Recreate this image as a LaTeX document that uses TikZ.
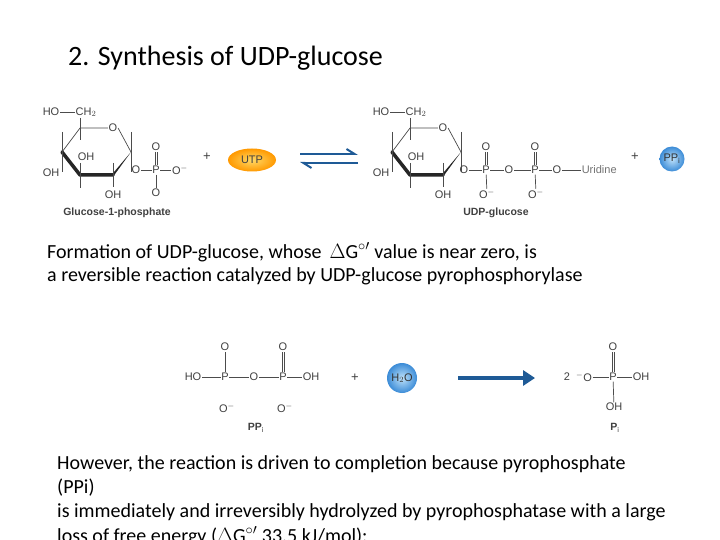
\documentclass[tikz,border=0pt]{standalone}
\usepackage{fontspec}
\setmainfont{Carlito}
\newfontfamily\chem{Liberation Sans}
\usetikzlibrary{arrows.meta,shapes.geometric}
\definecolor{arr}{RGB}{30,90,150}
\definecolor{ballc}{RGB}{60,140,215}
\definecolor{ballin}{RGB}{190,225,250}
\tikzset{
 ch/.style={font=\chem\fontsize{11}{12}\selectfont,text=black!75,inner sep=0.6pt},
 cl/.style={font=\chem\bfseries\fontsize{10.5}{12}\selectfont,text=black!75},
 bd/.style={black!70,line width=0.7pt},
 thick bond/.style={black!85,line width=3.5pt,line cap=round,line join=round},
 body/.style={font=\fontsize{20}{23}\selectfont,anchor=west,inner sep=0pt},
 ball/.style={circle,inner sep=0,ch,inner color=ballin,outer color=ballc,text=black!80},
}
\newcommand{\ring}[1]{%
 \begin{scope}[xshift=#1]
 \coordinate (c5) at (80,128); \node[ch] (ro) at (113,128) {O};
 \coordinate (c1) at (131,152); \coordinate (c2) at (113,175);
 \coordinate (c3) at (80,175); \coordinate (c4) at (62,152);
 \draw[bd] (c4)--(c5)--(ro.west); \draw[bd] (ro.east)--(c1);
 \draw[thick bond] (c4)--(c3)--(c2);
 \fill[black!85] (c2)++(0,1.8) -- ++(0,-3.6) -- (c1) -- cycle;
 \draw[bd] (c4)++(0,-20)--++(0,40);
 \draw[bd] (c1)++(0,-20)--++(0,40);
 \node[ch] (ho) at (51,112) {HO}; \node[ch] (ch2) at (86,112) {CH$_2$};
 \draw[bd] (ho)--(ch2); \draw[bd] (80,118)--(80,140);
 \draw[bd] (c3)--(80,188); \draw[bd] (80,163)--(c3);
 \node[ch] at (86,157) {OH};
 \node[ch] at (51,173) {OH};
 \draw[bd] (113,163)--(113,187); \node[ch] at (113,195) {OH};
 \end{scope}}
\begin{document}
\begin{tikzpicture}[x=1pt,y=-1pt]
\useasboundingbox (0,0) rectangle (720,540);
\fill[white] (0,0) rectangle (720,540);
\node[font=\fontsize{28}{32}\selectfont,anchor=west,inner sep=0pt] (title) at (68,58) {2. Synthesis of UDP-glucose};
% glucose-1-phosphate
\ring{0}
\node[ch] (o1) at (136,170) {O}; \node[ch] (p1) at (156,170) {P}; \node[ch] (om1) at (180,170) {O$^-$};
\node[ch] (ot1) at (156,147) {O}; \node[ch] (ob1) at (156,193) {O};
\draw[bd] (o1)--(p1); \draw[bd] (p1)--(om1.west);
\draw[bd] ([xshift=-1]p1.north)--([xshift=-1]ot1.south); \draw[bd] ([xshift=1]p1.north)--([xshift=1]ot1.south);
\draw[bd] (p1)--(ob1);
\node[cl] (g1p) at (117,213) {Glucose-1-phosphate};
\node[ch,font=\chem\fontsize{13}{14}\selectfont] (pl1) at (207,157) {+};
\node[ellipse,inner color=yellow!50!orange!60,outer color=orange!80!yellow,draw=none,minimum width=48,minimum height=23,inner sep=0,ch] (utp) at (252,160) {UTP};
\coordinate (e1) at (300,154); \coordinate (e2) at (358,154);
\coordinate (e3) at (358,163); \coordinate (e4) at (300,163);
\draw[arr,line width=2pt,-{Straight Barb[left,length=8pt,width=10pt]}] (e1)--(e2);
\draw[arr,line width=2pt,-{Straight Barb[left,length=8pt,width=10pt]}] (e3)--(e4);
% UDP-glucose
\ring{330}
\node[ch] (o2) at (464,170) {O}; \node[ch] (p2) at (486,170) {P}; \node[ch] (o3) at (509,170) {O};
\node[ch] (p3) at (535,170) {P}; \node[ch] (o4) at (557,170) {O}; \node[ch,anchor=west,text=black!55] (uri) at (581,170) {Uridine};
\node[ch] (ot2) at (486,147) {O}; \node[ch] (ob2) at (487,194) {O$^-$};
\node[ch] (ot3) at (535,147) {O}; \node[ch] (ob3) at (536,194) {O$^-$};
\draw[bd] (o2)--(p2)--(o3)--(p3)--(o4)--(uri);
\foreach \p/\t in {p2/ot2,p3/ot3}{
 \draw[bd] ([xshift=-1]\p.north)--([xshift=-1]\t.south); \draw[bd] ([xshift=1]\p.north)--([xshift=1]\t.south);}
\draw[bd] (p2)--(ob2); \draw[bd] (p3)--(ob3);
\node[cl] (udpg) at (496,213) {UDP-glucose};
\node[ch,font=\chem\fontsize{13}{14}\selectfont] (pl2) at (635,157) {+};
\node[ball,minimum size=25] (ppi1) at (672,159) {PP$_{\mathrm i}$};
% text
\node[body] (t1) at (47,252) {Formation of UDP-glucose, whose \,$\Delta$G$^{\circ\prime}$ value is near zero, is};
\node[body] (t2) at (47,276) {a reversible reaction catalyzed by UDP-glucose pyrophosphorylase};
% PPi hydrolysis
\node[ch] (ho2) at (193,377) {HO}; \node[ch] (pa) at (225,377) {P}; \node[ch] (ob) at (254,377) {O};
\node[ch] (pb) at (283,377) {P}; \node[ch] (oh2) at (311,377) {OH};
\node[ch] (pat) at (225,347) {O}; \node[ch] (pbt) at (283,347) {O};
\node[ch] at (227,408) {O$^-$}; \node[ch] at (285,408) {O$^-$};
\draw[bd] (ho2)--(pa)--(ob)--(pb)--(oh2); \draw[bd] (pa)--(pat);
\draw[bd] ([xshift=-1]pb.north)--([xshift=-1]pbt.south); \draw[bd] ([xshift=1]pb.north)--([xshift=1]pbt.south);
\node[cl] (ppil) at (256,428) {PP$_{\mathrm i}$};
\node[ch,font=\chem\fontsize{13}{14}\selectfont] (pl3) at (355,378) {+};
\node[ball,minimum size=30] (h2o) at (402,378) {H$_2$O};
\coordinate (a1) at (458,378); \coordinate (a2) at (535,378);
\draw[arr,line width=4.5pt,-{Triangle[length=12pt,width=15pt]}] (a1)--(a2);
\node[ch] (two) at (567,377) {2}; \node[ch] (om) at (584,377) {$^-$O}; \node[ch] (pc) at (613,377) {P}; \node[ch] (oh3) at (641,377) {OH};
\node[ch] (pct) at (613,347) {O}; \node[ch] (pcb) at (614,407) {OH};
\draw[bd] (om)--(pc)--(oh3); \draw[bd] (pc)--(pcb);
\draw[bd] ([xshift=-1]pc.north)--([xshift=-1]pct.south); \draw[bd] ([xshift=1]pc.north)--([xshift=1]pct.south);
\node[cl] (pil) at (615,428) {P$_{\mathrm i}$};
\node[body] (t3) at (57,464) {However, the reaction is driven to completion because pyrophosphate};
\node[body] (t4) at (57,488) {(PPi)};
\node[body] (t5) at (57,512) {is immediately and irreversibly hydrolyzed by pyrophosphatase with a large};
\node[body] (t6) at (57,536) {loss of free energy ($\Delta$G$^{\circ\prime}$ 33.5 kJ/mol):};
\end{tikzpicture}
\end{document}
